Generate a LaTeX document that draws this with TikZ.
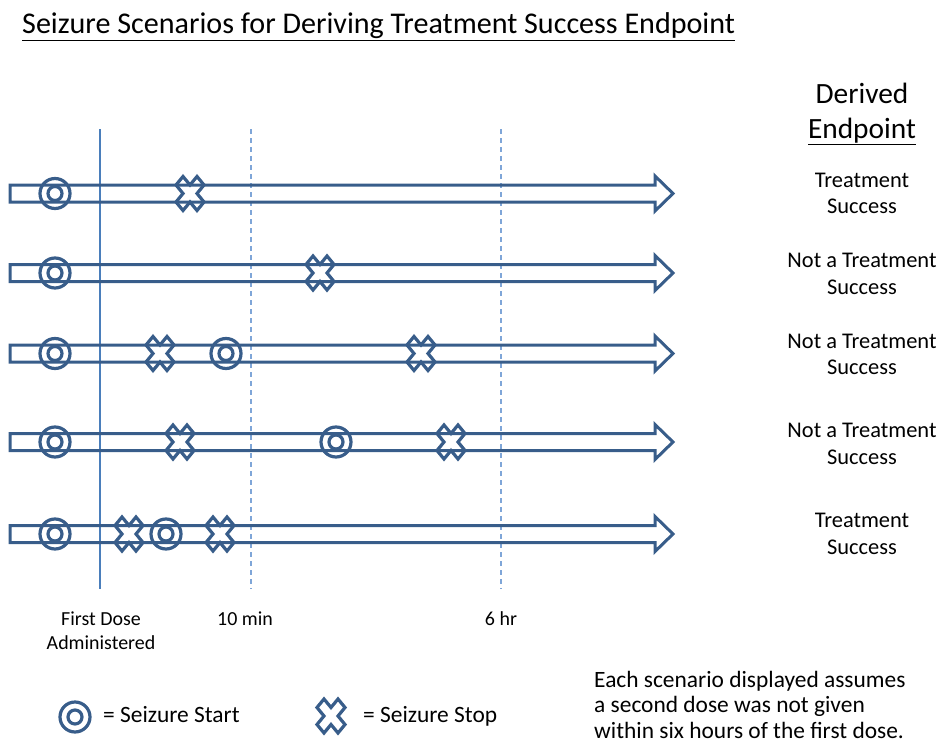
\documentclass[tikz,border=0pt]{standalone}
\usepackage{fontspec}
\setmainfont{Carlito}
\usepackage{tikz}
\definecolor{shapeblue}{HTML}{385D8A}
\definecolor{lineblue}{HTML}{4A7EBB}
\definecolor{dashblue}{HTML}{7FA6D8}
\tikzset{
  symb/.style={draw=shapeblue,line width=3.2bp},
  tline/.style={draw=shapeblue,line width=3bp},
  lbl/.style={align=center,font=\fontsize{22.5}{26.5}\selectfont},
  axlbl/.style={align=center,font=\fontsize{20}{24}\selectfont}
}
% seizure start (double ring) and seizure stop (cross)
\newcommand{\szStart}[2]{\draw[symb] (#1,#2) circle (15) (#1,#2) circle (7);}
\newcommand{\szStop}[2]{\draw[symb,shift={(#1,#2)},xscale=14,yscale=17]
  (0,-.5)--(.5,-1)--(1,-.5)--(.5,0)--(1,.5)--(.5,1)--(0,.5)
  --(-.5,1)--(-1,.5)--(-.5,0)--(-1,-.5)--(-.5,-1)--cycle;}
\newcommand{\timeline}[1]{\draw[tline] (10,#1-8.5)--(655,#1-8.5)--(655,#1-17.5)
  --(673,#1)--(655,#1+17.5)--(655,#1+8.5)--(10,#1+8.5)--cycle;}
\begin{document}
\begin{tikzpicture}[x=1bp,y=-1bp]
  \useasboundingbox (0,0) rectangle (943,744);
  \node[anchor=base west,inner sep=0,font=\fontsize{30.2}{36}\selectfont] (title) at (22,34)
    {\underline{Seizure Scenarios for Deriving Treatment Success Endpoint}};
  % time marks
  \draw[lineblue,line width=2bp] (100,129) -- (100,589);
  \draw[dashblue,line width=1.6bp,dash pattern=on 5bp off 4bp] (251,129) -- (251,589);
  \draw[dashblue,line width=1.6bp,dash pattern=on 5bp off 4bp] (501,129) -- (501,589);
  % scenarios
  \timeline{193.5}
  \szStart{55}{193.5} \szStop{190}{193.5}
  \timeline{273}
  \szStart{55}{273} \szStop{320}{273}
  \timeline{353.5}
  \szStart{55}{353.5} \szStop{160}{353.5} \szStart{226}{353.5} \szStop{421}{353.5}
  \timeline{442}
  \szStart{55}{442} \szStop{180}{442} \szStart{336}{442} \szStop{451}{442}
  \timeline{534}
  \szStart{55}{534} \szStop{129}{534} \szStart{166}{534} \szStop{220}{534}
  % derived endpoint
  \node[align=center,font=\fontsize{29.5}{35}\selectfont,anchor=base] (hdr) at (862,138)
    {Derived\\\underline{Endpoint}};
  \node[lbl] (res1) at (862,193.5) {Treatment\\Success};
  \node[lbl] (res2) at (862,274) {Not a Treatment\\Success};
  \node[lbl] (res3) at (862,354.5) {Not a Treatment\\Success};
  \node[lbl] (res4) at (862,444) {Not a Treatment\\Success};
  \node[lbl] (res5) at (862,534) {Treatment\\Success};
  % time labels
  \node[axlbl,anchor=base] (dose) at (101,649) {First Dose\\Administered};
  \node[axlbl,anchor=base] (tmin) at (245,625) {10 min};
  \node[axlbl,anchor=base] (thr) at (501,625) {6 hr};
  % legend
  \szStart{75}{717}
  \node[anchor=base west,inner sep=0,font=\fontsize{23.5}{28}\selectfont] (lgstart) at (103,722) {= Seizure Start};
  \szStop{331}{716}
  \node[anchor=base west,inner sep=0,font=\fontsize{23.5}{28}\selectfont] (lgstop) at (363,722) {= Seizure Stop};
  \node[anchor=north west,inner sep=0,align=left,font=\fontsize{23.5}{25.5}\selectfont] (note) at (594,671)
    {Each scenario displayed assumes\\a second dose was not given\\within six hours of the first dose.};
\end{tikzpicture}
\end{document}
